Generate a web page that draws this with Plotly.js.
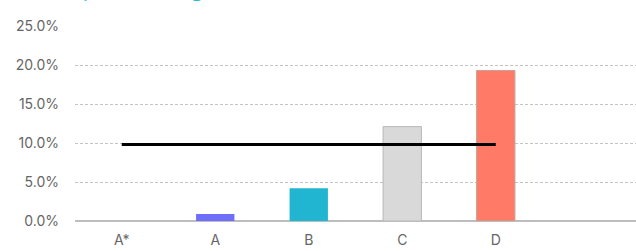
<!DOCTYPE html>
<html>
<head>
<meta charset="utf-8">
<script src="https://cdn.plot.ly/plotly-3.0.1.min.js"></script>
<style>html,body{margin:0;padding:0;background:#fff;}#chart{width:636px;height:251px;}</style>
</head>
<body>
<div id="chart"></div>
<script>
const categories = ["A*", "A", "B", "C", "D", ""];
const barValues = [0, 0.9, 4.2, 12.1, 19.3];
const barColors = ["#6e6efa", "#6e6efa", "#21b5d1", "#d9d9d9", "#ff7b67"];
const barOutline = ["rgba(0,0,0,0)", "rgba(0,0,0,0)", "rgba(0,0,0,0)", "#b8b8b8", "#c8a098"];
const benchmark = [9.8, 9.8, 9.8, 9.8, 9.8];
const yTicks = [0, 5, 10, 15, 20, 25];
const yTickText = ["0.0%", "5.0%", "10.0%", "15.0%", "20.0%", "25.0%"];

const xIdx = categories.map((c, i) => i);
const barX = barValues.map((v, i) => i);

const font = {family: "Inter, 'Open Sans', sans-serif", size: 14, color: "#666"};

const data = [
  {type: "bar", x: barX, y: barValues, width: 0.41,
   marker: {color: barColors, line: {color: barOutline, width: 1}},
   hoverinfo: "none", showlegend: false},
  {type: "scatter", mode: "lines", x: barX, y: benchmark,
   line: {color: "#000", width: 3}, hoverinfo: "none", showlegend: false}
];

const layout = {
  width: 636, height: 251,
  margin: {l: 75, r: 0, t: 26, b: 30},
  paper_bgcolor: "#fff", plot_bgcolor: "#fff",
  font: font,
  title: {text: "Impact rating", x: 0.0865, xanchor: "left", y: 1.0, yanchor: "bottom", yref: "paper",
          font: {family: "Inter, sans-serif", size: 24, color: "#22bcd4"}, pad: {b: 30}},
  xaxis: {range: [-0.5, 5.5], tickvals: xIdx, ticktext: categories, showgrid: false,
          zeroline: false, showline: false, ticks: "", ticklabelstandoff: 9, fixedrange: true},
  yaxis: {range: [0, 25], tickvals: yTicks, ticktext: yTickText, showgrid: true,
          gridcolor: "#c4c4c4", griddash: "3px,2px", gridwidth: 1,
          zeroline: true, zerolinecolor: "#bdbdbd", zerolinewidth: 2,
          showline: false, ticks: "", ticklabelstandoff: 15, fixedrange: true}
};

Plotly.newPlot("chart", data, layout, {displayModeBar: false, staticPlot: true});
</script>
</body>
</html>
